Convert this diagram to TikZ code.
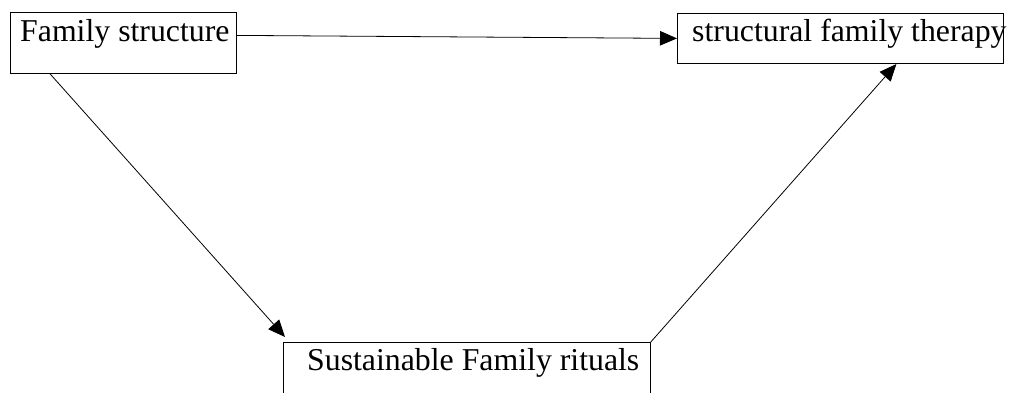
\documentclass[tikz,border=0pt]{standalone}
\usepackage{fontspec}
\setmainfont{Liberation Serif}
\usetikzlibrary{arrows.meta}
\begin{document}
\begin{tikzpicture}[x=1pt,y=-1pt,
  boxnode/.style={draw=black,line width=0.8pt,rectangle,inner sep=0pt,anchor=north west},
  txt/.style={inner sep=0pt,anchor=base west,font=\fontsize{31.8}{38}\selectfont},
  conn/.style={line width=0.8pt,-{Triangle[length=17pt,width=14.5pt]}}]
\useasboundingbox (0,0) rectangle (1010,393);
\clip (0,0) rectangle (1010,393);
\node[boxnode,minimum width=226pt,minimum height=61pt] (fs) at (10,12) {};
\node[boxnode,minimum width=326pt,minimum height=50pt] (sft) at (677,12.7) {};
\node[boxnode,minimum width=367pt,minimum height=70pt] (sfr) at (283,342) {};
\node[txt] (t1) at (20,42) {Family structure};
\node[txt] (t2) at (692,42) {structural family therapy};
\node[txt] (t3) at (307,370) {Sustainable Family rituals};
\draw[conn] ([yshift=7.5pt]fs.east) -- ([yshift=-0.3pt]sft.west);
\draw[conn] ([xshift=40pt]fs.south west) -- ([shift={(2pt,5pt)}]sfr.north west);
\draw[conn] (sfr.north east) -- ([xshift=56pt,yshift=-0.5pt]sft.south);
\end{tikzpicture}
\end{document}
